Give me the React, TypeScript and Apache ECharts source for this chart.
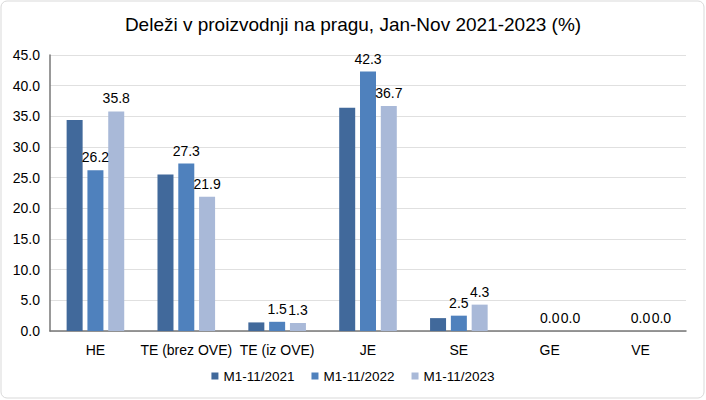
import React, { useRef, useEffect } from 'react';
import * as echarts from 'echarts';

const categories = ['HE', 'TE (brez OVE)', 'TE (iz OVE)', 'JE', 'SE', 'GE', 'VE'];
const seriesNames = ['M1-11/2021', 'M1-11/2022', 'M1-11/2023'];
const values2021 = [34.4, 25.5, 1.4, 36.4, 2.1, 0, 0];
const values2022 = [26.2, 27.3, 1.5, 42.3, 2.5, 0, 0];
const values2023 = [35.8, 21.9, 1.3, 36.7, 4.3, 0, 0];
const colors = ['#41699b', '#4f81bd', '#a9b9d8'];

const FONT = 'Liberation Sans, Arial, sans-serif';

export default function App() {
  const chartRef = useRef<HTMLDivElement>(null);

  useEffect(() => {
    if (!chartRef.current) return;
    const chart = echarts.init(chartRef.current, undefined, { renderer: 'svg' });

    const label = (show: boolean) => ({
      show,
      position: 'top' as const,
      distance: 6,
      color: '#000',
      fontSize: 14,
      fontFamily: FONT,
      formatter: (p: any) => Number(p.value).toFixed(1),
    });

    const allValues = [values2021, values2022, values2023];

    chart.setOption({
      animation: false,
      textStyle: { fontFamily: FONT },
      graphic: [
        {
          type: 'rect',
          shape: { x: 1, y: 1, width: 703, height: 397, r: 6 },
          style: { fill: 'none', stroke: '#d9d9d9', lineWidth: 1 },
          silent: true,
        },
      ],
      title: {
        text: 'Deleži v proizvodnji na pragu, Jan-Nov 2021-2023 (%)',
        left: 'center',
        top: 10,
        textStyle: { fontSize: 19, fontWeight: 'normal', color: '#000', fontFamily: FONT },
      },
      legend: {
        bottom: 12,
        left: 'center',
        itemWidth: 7,
        itemHeight: 7,
        itemGap: 17,
        icon: 'rect',
        textStyle: { fontSize: 13.5, color: '#000', fontFamily: FONT },
        data: seriesNames,
      },
      grid: { left: 50, right: 20, top: 55, bottom: 69 },
      xAxis: {
        type: 'category',
        data: categories,
        axisLine: { lineStyle: { color: '#777', width: 1.5 } },
        axisTick: { show: false },
        axisLabel: { color: '#000', fontSize: 14, margin: 12, interval: 0, fontFamily: FONT },
      },
      yAxis: {
        type: 'value',
        min: 0,
        max: 45,
        interval: 5,
        axisLine: { show: true, lineStyle: { color: '#777', width: 1.5 } },
        axisTick: { show: false },
        axisLabel: {
          color: '#000',
          fontSize: 14,
          margin: 10,
          fontFamily: FONT,
          formatter: (v: number) => v.toFixed(1),
        },
        splitLine: { lineStyle: { color: '#e0e0e0', width: 1 } },
      },
      series: seriesNames.map((name, i) => ({
        name,
        type: 'bar',
        data: allValues[i],
        barWidth: 16,
        barGap: '30%',
        itemStyle: { color: colors[i] },
        label: label(i > 0),
      })),
    });

    return () => {
      chart.dispose();
    };
  }, []);

  return (
    <div
      ref={chartRef}
      style={{ position: 'fixed', left: 0, top: 0, width: '706px', height: '400px', background: '#fff' }}
    />
  );
}
